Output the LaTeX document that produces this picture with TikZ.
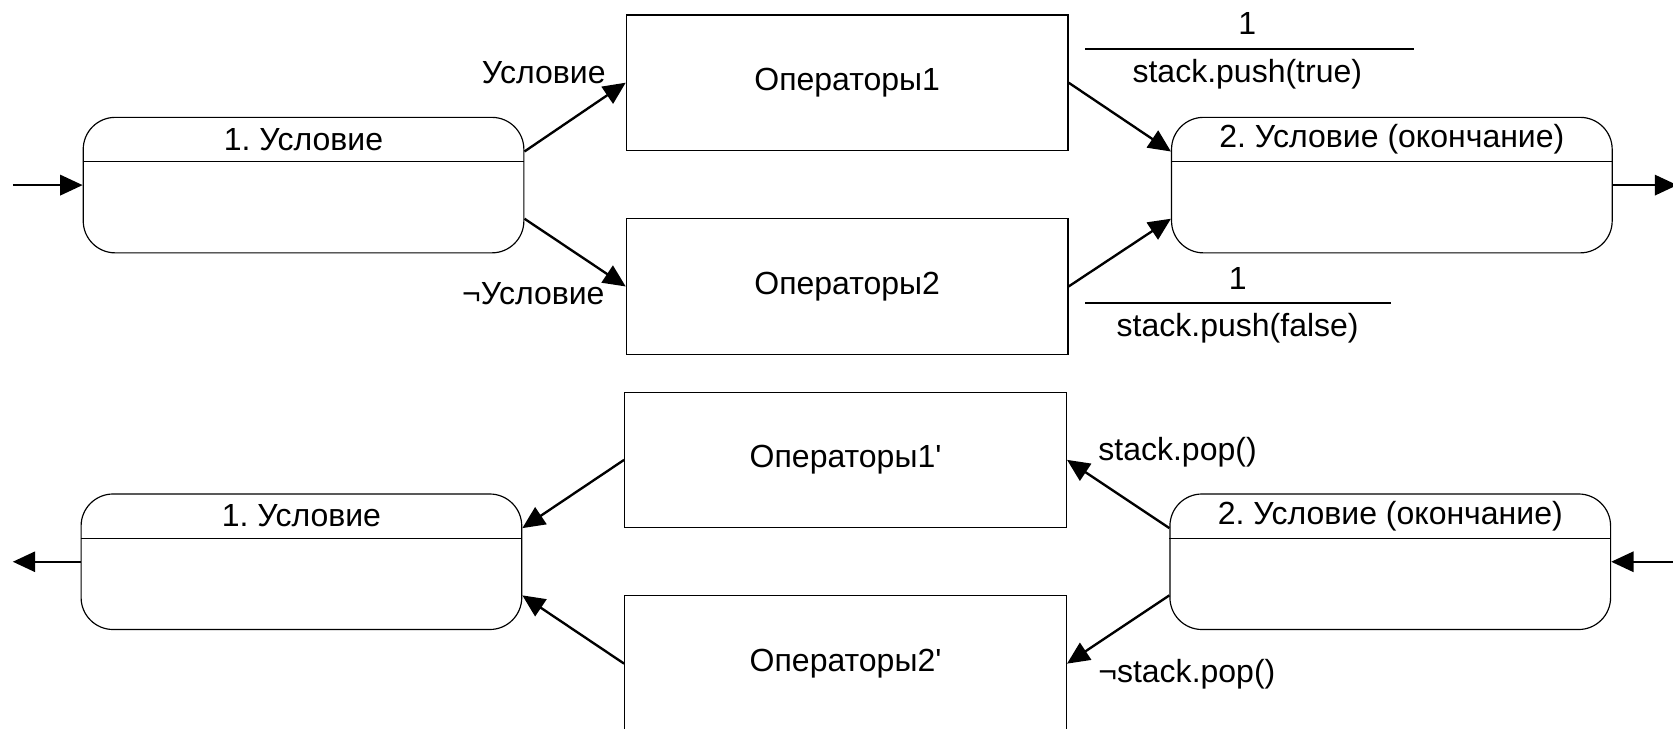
\documentclass[tikz,border=0pt]{standalone}
\usepackage{fontspec}
\setmainfont{Liberation Sans}[Ligatures=TeXOff]
\usetikzlibrary{arrows.meta}
\frenchspacing
\begin{document}
\begin{tikzpicture}[x=0.5pt,y=-0.5pt,
  every node/.style={font=\fontsize{15}{18}\selectfont, inner sep=0pt},
  statebox/.style={draw, line width=0.55pt, rounded corners=15pt, minimum width=206.5pt, minimum height=63.5pt},
  opbox/.style={draw, line width=0.55pt, minimum width=207pt, minimum height=63.5pt},
  conn/.style={line width=1.1pt, -{Triangle[length=10.5pt,width=9.5pt]}},
  divider/.style={line width=0.55pt}]
\useasboundingbox (0,0) rectangle (1568,683);
% ---------- top part ----------
\node[statebox] (s1) at (284.5,173.5) {};
\draw[divider] ([yshift=-21pt]s1.north west) -- ([yshift=-21pt]s1.north east);
\node (s1t) at ([yshift=-10.5pt]s1.north) {1.\ Условие};
\node[opbox] (op1) at (794,77.5) {Операторы1};
\node[opbox] (op2) at (794,268.5) {Операторы2};
\node[statebox] (s2) at (1304.5,173.5) {};
\draw[divider] ([yshift=-21pt]s2.north west) -- ([yshift=-21pt]s2.north east);
\node (s2t) at ([yshift=-10.5pt]s2.north) {2.\ Условие (окончание)};
\coordinate (in1) at (12,173.5);
\coordinate (out1) at (1572,173.5);
\draw[conn] (in1) -- (s1.west);
\draw[conn] ([yshift=15.75pt]s1.east) -- (op1.west);
\draw[conn] ([yshift=-15.75pt]s1.east) -- (op2.west);
\draw[conn] (op1.east) -- ([yshift=15.75pt]s2.west);
\draw[conn] (op2.east) -- ([yshift=-15.75pt]s2.west);
\draw[conn] (s2.east) -- (out1);
\node[anchor=east] (lc1) at (568,68) {Условие};
\node[anchor=east] (lc2) at (567,275) {¬Условие};
\node (one1) at (1169,22) {1};
\coordinate (f1a) at (1017,46);
\coordinate (f1b) at (1325,46);
\draw[line width=1.1pt] (f1a) -- (f1b);
\node (push1) at (1169,70) {stack.push(true)};
\node (one2) at (1160,261) {1};
\coordinate (f2a) at (1017,284);
\coordinate (f2b) at (1304,284);
\draw[line width=1.1pt] (f2a) -- (f2b);
\node (push2) at (1160,308) {stack.push(false)};
% ---------- bottom part ----------
\node[statebox] (s1b) at (282.5,526.5) {};
\draw[divider] ([yshift=-21pt]s1b.north west) -- ([yshift=-21pt]s1b.north east);
\node (s1bt) at ([yshift=-10.5pt]s1b.north) {1.\ Условие};
\node[opbox] (op1b) at (792.5,431) {Операторы1'};
\node[opbox] (op2b) at (792.5,622) {Операторы2'};
\node[statebox] (s2b) at (1303,526.5) {};
\draw[divider] ([yshift=-21pt]s2b.north west) -- ([yshift=-21pt]s2b.north east);
\node (s2bt) at ([yshift=-10.5pt]s2b.north) {2.\ Условие (окончание)};
\coordinate (out2) at (12,526.5);
\coordinate (in2) at (1572,526.5);
\draw[conn] (s1b.west) -- (out2);
\draw[conn] (in2) -- (s2b.east);
\draw[conn] ([yshift=15.75pt]s2b.west) -- (op1b.east);
\draw[conn] ([yshift=-15.75pt]s2b.west) -- (op2b.east);
\draw[conn] (op1b.west) -- ([yshift=15.75pt]s1b.east);
\draw[conn] (op2b.west) -- ([yshift=-15.75pt]s1b.east);
\node[anchor=west] (pop1) at (1029,424) {stack.pop()};
\node[anchor=west] (pop2) at (1029,632) {¬stack.pop()};
\end{tikzpicture}
\end{document}
